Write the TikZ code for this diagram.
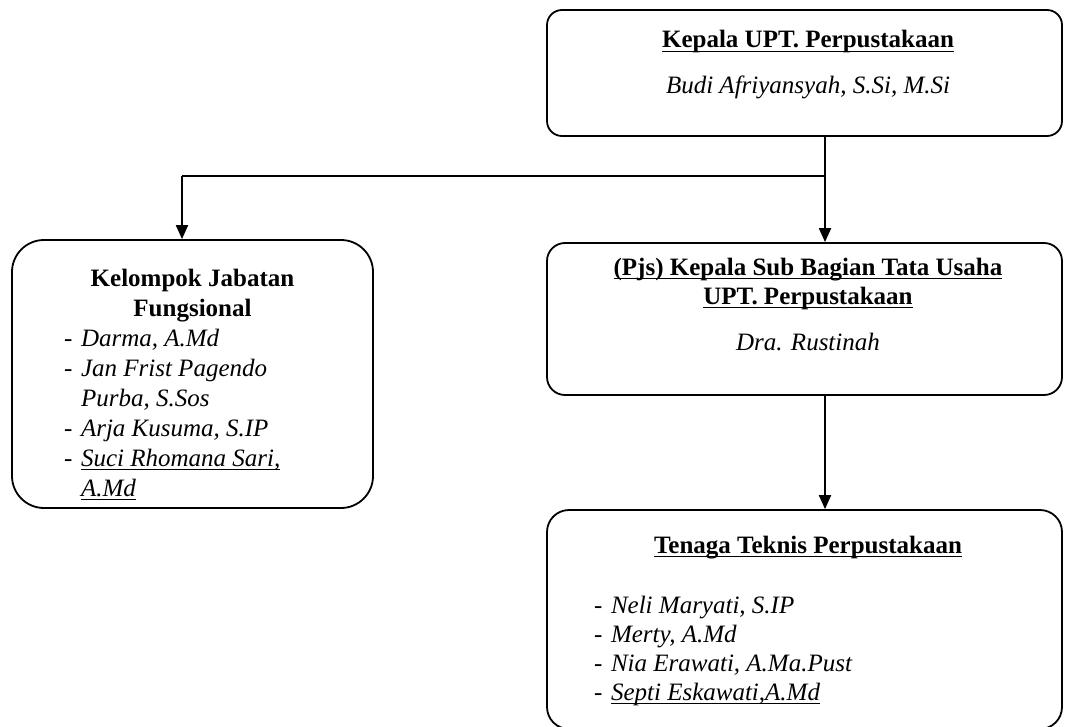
\documentclass[tikz,border=0pt]{standalone}
\usepackage{fontspec}
\setmainfont{Liberation Serif}
\usetikzlibrary{arrows.meta}

\newcommand{\garis}[1]{\setbox0\hbox{#1}\rlap{\rule[-2.2pt]{\wd0}{0.7pt}}\box0}
\newcommand{\anggota}[1]{\makebox[8.5pt][l]{-}\textit{#1}}

\begin{document}
\begin{tikzpicture}[x=0.5pt,y=-0.5pt,>={Triangle[width=6pt,length=7pt]},line width=1pt,
  unit box/.style={draw,line width=0.9pt,inner sep=0pt},
  judul/.style={font=\fontsize{12.5}{15}\selectfont\bfseries,anchor=base,inner sep=0pt},
  nama/.style={font=\fontsize{12.5}{15}\selectfont\itshape,anchor=base,inner sep=0pt},
  anggota/.style={font=\fontsize{12.5}{15}\selectfont,anchor=base west,inner sep=0pt}]

\useasboundingbox (0,0) rectangle (1091,727);

% kotak-kotak
\node[unit box,rounded corners=7.5pt,minimum width=257.5pt,minimum height=63pt] (kepala) at (804.5,73) {};
\node[unit box,rounded corners=9pt,minimum width=257.5pt,minimum height=76pt] (subbag) at (804.5,319) {};
\node[unit box,rounded corners=11pt,minimum width=257.5pt,minimum height=109.5pt] (teknis) at (804.5,619.5) {};
\node[unit box,rounded corners=16pt,minimum width=180.5pt,minimum height=134pt] (fungsional) at (192.5,374) {};

% isi kepala
\node[judul] (kepala-judul) at (808,48) {\garis{Kepala UPT. Perpustakaan}};
\node[nama] (kepala-nama) at (808,94) {Budi Afriyansyah, S.Si, M.Si};

% isi subbag
\node[judul] (subbag-judul1) at (808,275) {\garis{(Pjs) Kepala Sub Bagian Tata Usaha}};
\node[judul] (subbag-judul2) at (808,304) {\garis{UPT. Perpustakaan}};
\node[nama] (subbag-nama) at (808,350) {Dra. Rustinah};

% isi fungsional
\node[judul] (fungsional-judul1) at (192.5,286) {Kelompok Jabatan};
\node[judul] (fungsional-judul2) at (192.5,316) {Fungsional};
\node[anggota] (f1) at (63,346) {\anggota{Darma, A.Md}};
\node[anggota] (f2) at (63,376) {\anggota{Jan Frist Pagendo}};
\node[anggota] (f2b) at (80,406) {\textit{Purba, S.Sos}};
\node[anggota] (f3) at (63,436) {\anggota{Arja Kusuma, S.IP}};
\node[anggota] (f4) at (63,466) {\anggota{\garis{Suci Rhomana Sari,}}};
\node[anggota] (f4b) at (80,496) {\textit{\garis{A.Md}}};

% isi teknis
\node[judul] (teknis-judul) at (808,553) {\garis{Tenaga Teknis Perpustakaan}};
\node[anggota] (t1) at (593,613) {\anggota{Neli Maryati, S.IP}};
\node[anggota] (t2) at (593,642) {\anggota{Merty, A.Md}};
\node[anggota] (t3) at (593,671) {\anggota{Nia Erawati, A.Ma.Pust}};
\node[anggota] (t4) at (593,700) {\anggota{\garis{Septi Eskawati,A.Md}}};

% garis
\coordinate (split) at (825,176);
\coordinate (branch) at (182,176);
\draw (kepala.south -| split) -- (split) -- (branch);
\draw[->] (split) -- (subbag.north -| split);
\draw[->] (branch) -- (fungsional.north -| branch);
\draw[->] (subbag.south -| split) -- (teknis.north -| split);

\end{tikzpicture}
\end{document}
